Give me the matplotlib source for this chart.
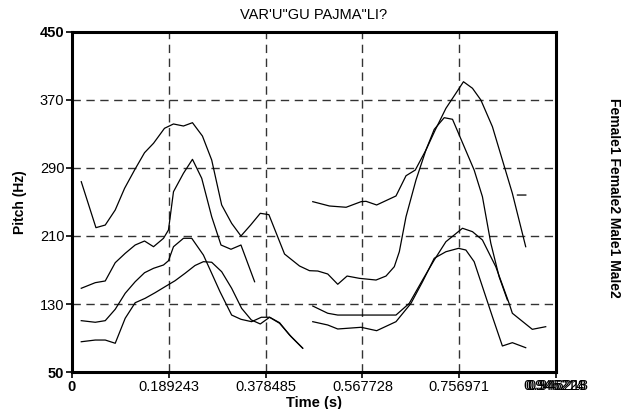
import numpy as np
import matplotlib
matplotlib.use("Agg")
import matplotlib.pyplot as plt

plt.rcParams['font.family'] = ['Liberation Sans', 'DejaVu Sans']

nan = np.nan
title = 'VAR\'U"GU PAJMA"LI?'
series_names = ["Female1", "Female2", "Male1", "Male2"]
x_ticks = [0, 0.189243, 0.378485, 0.567728, 0.756971]
x_ticklabels = ["0", "0.189243", "0.378485", "0.567728", "0.756971"]
x_end_labels = ["0.946214", "0.946228", "0.946213"]
y_ticks = [50, 130, 210, 290, 370, 450]

female1_t = [0.0181, 0.0468, 0.0650, 0.0845, 0.1028, 0.1223, 0.1418, 0.1594, 0.1808, 0.1984,
             0.2179, 0.2355, 0.2550, 0.2731, 0.2926, 0.3121, 0.3303, 0.3492, 0.3681, 0.3849,
             0.4155, 0.4448, 0.4643, 0.4805, 0.5000, 0.5195, 0.5378, 0.5618, 0.5944, 0.6139,
             0.6301, 0.6399, 0.6530, 0.6725, 0.6920, 0.7082, 0.7277, 0.7439, 0.7667, 0.7862,
             0.8024, 0.8188, 0.8350, 0.8512, nan, 0.8708, 0.8872]
female1_f = [273.9, 219.8, 222.9, 240.6, 266.1, 287.6, 308.0, 319.1, 336.7, 341.8,
             339.4, 343.3, 327.6, 299.4, 246.5, 224.9, 210.0, 222.9, 236.7, 235.1,
             188.8, 174.7, 169.2, 168.8, 165.3, 153.2, 162.9, 160.2, 158.2, 162.9,
             173.9, 191.5, 232.7, 275.9, 311.2, 335.5, 349.2, 347.3, 315.1, 287.6,
             256.2, 201.4, 162.1, 134.7, nan, 258.2, 258.2]

female2_t = [0.0181, 0.0455, 0.0650, 0.0845, 0.1040, 0.1235, 0.1418, 0.1594, 0.1789, 0.1886,
             0.1984, 0.2179, 0.2355, 0.2536, 0.2731, 0.2913, 0.3108, 0.3303, 0.3570, nan,
             0.4707, 0.5033, 0.5359, 0.5652, 0.5749, 0.5956, 0.6334, 0.6530, 0.6711, 0.6920,
             0.7101, 0.7310, 0.7505, 0.7653, 0.7829, 0.7993, 0.8219, 0.8414, 0.8609, 0.8870]
female2_f = [148.5, 155.1, 157.1, 178.6, 189.6, 199.4, 204.1, 197.4, 207.3, 217.1,
             262.1, 283.8, 300.2, 277.9, 232.7, 199.4, 194.4, 199.4, 156.2, nan,
             250.4, 245.3, 243.8, 250.4, 250.8, 246.5, 257.1, 280.9, 287.6, 311.2,
             334.7, 360.2, 377.9, 391.5, 383.8, 370.0, 338.6, 299.4, 260.2, 197.4]

male1_t = [0.0181, 0.0455, 0.0650, 0.0845, 0.1040, 0.1235, 0.1418, 0.1594, 0.1789, 0.1886,
           0.1984, 0.2179, 0.2341, 0.2569, 0.2731, 0.2893, 0.3121, 0.3303, 0.3512, 0.3701,
           0.3863, 0.4058, 0.4286, 0.4507, nan,
           0.4707, 0.5000, 0.5195, 0.5652, 0.5944, 0.6334, 0.6594, 0.6853, 0.7082, 0.7310,
           0.7634, 0.7829, 0.8024, 0.8285, 0.8545, 0.8609, 0.8999, 0.9261]
male1_f = [110.4, 108.5, 110.4, 123.8, 142.6, 156.2, 166.8, 172.0, 175.9, 180.9,
           197.4, 207.3, 207.3, 187.6, 166.1, 144.5, 117.0, 112.0, 109.2, 114.4,
           114.4, 107.3, 91.5, 78.2, nan,
           127.6, 119.1, 117.0, 117.0, 117.0, 117.0, 130.8, 158.2, 181.8, 203.3,
           219.1, 215.1, 205.3, 173.9, 130.8, 119.1, 100.2, 103.3]

male2_t = [0.0181, 0.0455, 0.0650, 0.0845, 0.1040, 0.1235, 0.1430, 0.1625, 0.1820, 0.2015,
           0.2210, 0.2405, 0.2569, 0.2731, 0.2926, 0.3121, 0.3316, 0.3506, 0.3681, 0.3863,
           0.4058, 0.4253, 0.4512, nan,
           0.4707, 0.5000, 0.5195, 0.5652, 0.5956, 0.6334, 0.6627, 0.6853, 0.7082, 0.7310,
           0.7556, 0.7700, 0.7862, 0.8024, 0.8219, 0.8414, 0.8609, 0.8870]
male2_f = [85.6, 87.6, 87.6, 83.8, 113.2, 131.5, 136.7, 143.3, 150.4, 157.4,
           166.1, 175.3, 179.8, 179.1, 168.0, 148.5, 124.9, 111.2, 106.5, 114.4,
           108.0, 93.5, 77.9, nan,
           109.2, 105.3, 100.6, 102.6, 98.6, 109.2, 130.8, 156.2, 183.8, 191.5,
           195.5, 193.5, 179.8, 150.4, 115.1, 80.6, 84.5, 78.6]

W, H = 621, 409
fig = plt.figure(figsize=(W / 100, H / 100), dpi=100)
ax = fig.add_axes([72 / W, 1 - 372 / H, (556 - 72) / W, (372 - 32) / H])

for t, f in [(female1_t, female1_f), (female2_t, female2_f), (male1_t, male1_f), (male2_t, male2_f)]:
    ax.plot(t, f, color='black', lw=0.9)

fs = 10.5
xmax = 0.946214
ax.set_xlim(0, xmax)
ax.set_ylim(50, 450)
ax.set_xticks(x_ticks + [xmax])
ax.set_xticklabels(x_ticklabels + [""])
ax.set_yticks(y_ticks)
ax.set_yticklabels([str(v) for v in y_ticks])
for lab in ax.get_yticklabels():
    if lab.get_text() in ("50", "450"):
        lab.set_fontweight('bold')
ax.get_xticklabels()[0].set_fontweight('bold')

ax.tick_params(axis='both', labelsize=fs, length=4, width=1.2, direction='out', pad=1.5, colors='black')
for sp in ax.spines.values():
    sp.set_linewidth(2.2)
    sp.set_color('black')

# dashed grid at interior ticks
for xv in x_ticks[1:]:
    ax.axvline(xv, color='#333333', lw=1.0, linestyle=(0, (6, 4)), zorder=0)
for yv in y_ticks[1:-1]:
    ax.axhline(yv, color='#333333', lw=1.0, linestyle=(0, (6, 4)), zorder=0)

# overlapping end labels
for i, lab in enumerate(x_end_labels):
    ax.annotate(lab, xy=(xmax, 0), xycoords=('data', 'axes fraction'),
                xytext=(-1.2 + i * 1.2, -5.0), textcoords='offset points',
                ha='center', va='top', fontsize=fs)

ax.set_title(title, fontsize=fs, pad=9)
ax.set_xlabel("Time (s)", fontsize=fs, fontweight='bold', labelpad=1.5)
ax.set_ylabel("Pitch (Hz)", fontsize=10, fontweight='bold', labelpad=9)

fig.text(614 / W, 1 - 198 / H, " ".join(series_names), rotation=270,
         ha='center', va='center', fontsize=10, fontweight='bold')

fig.savefig("out.png", dpi=100)
